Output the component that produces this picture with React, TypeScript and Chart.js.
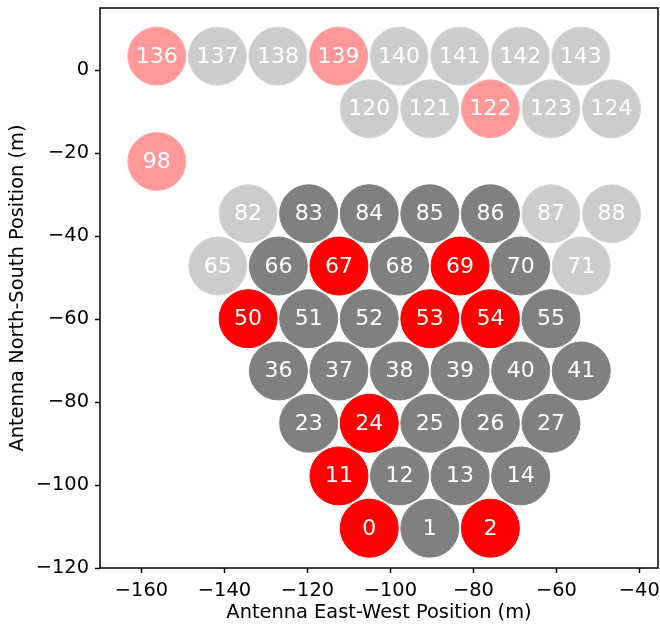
import React, { useEffect, useRef } from "react";
import { Chart, registerables } from "chart.js";

Chart.register(...registerables);

// Antenna numbers, positions (m) and state
const antNums = [
  0, 1, 2,
  11, 12, 13, 14,
  23, 24, 25, 26, 27,
  36, 37, 38, 39, 40, 41,
  50, 51, 52, 53, 54, 55,
  65, 66, 67, 68, 69, 70, 71,
  82, 83, 84, 85, 86, 87, 88,
  98,
  120, 121, 122, 123, 124,
  136, 137, 138, 139, 140, 141, 142, 143,
];
const antEast = [
  -105.1, -90.5, -75.9,
  -112.4, -97.8, -83.2, -68.6,
  -119.7, -105.1, -90.5, -75.9, -61.3,
  -127.0, -112.4, -97.8, -83.2, -68.6, -54.0,
  -134.3, -119.7, -105.1, -90.5, -75.9, -61.3,
  -141.6, -127.0, -112.4, -97.8, -83.2, -68.6, -54.0,
  -134.3, -119.7, -105.1, -90.5, -75.9, -61.3, -46.7,
  -156.3,
  -105.1, -90.5, -75.9, -61.3, -46.7,
  -156.3, -141.7, -127.1, -112.5, -97.9, -83.3, -68.7, -54.1,
];
const antNorth = [
  -110.4, -110.4, -110.4,
  -97.8, -97.8, -97.8, -97.8,
  -85.1, -85.1, -85.1, -85.1, -85.1,
  -72.5, -72.5, -72.5, -72.5, -72.5, -72.5,
  -59.9, -59.9, -59.9, -59.9, -59.9, -59.9,
  -47.2, -47.2, -47.2, -47.2, -47.2, -47.2, -47.2,
  -34.6, -34.6, -34.6, -34.6, -34.6, -34.6, -34.6,
  -22.0,
  -9.3, -9.3, -9.3, -9.3, -9.3,
  3.4, 3.4, 3.4, 3.4, 3.4, 3.4, 3.4, 3.4,
];
// R = red, G = gray, r = faint red, g = faint gray
const antState = [
  "R", "G", "R",
  "R", "G", "G", "G",
  "G", "R", "G", "G", "G",
  "G", "G", "G", "G", "G", "G",
  "R", "G", "G", "R", "R", "G",
  "g", "G", "R", "G", "R", "G", "g",
  "g", "G", "G", "G", "G", "g", "g",
  "r",
  "g", "g", "r", "g", "g",
  "r", "g", "g", "r", "g", "g", "g", "g",
];

const xTicks = [-160, -140, -120, -100, -80, -60, -40];
const yTicks = [-120, -100, -80, -60, -40, -20, 0];
const xLabel = "Antenna East-West Position (m)";
const yLabel = "Antenna North-South Position (m)";

const fillColors: Record<string, string> = {
  R: "#ff0000",
  G: "#808080",
  r: "#ff9999",
  g: "#cccccc",
};
const edgeColors: Record<string, string> = {
  R: "#ff0000",
  G: "#808080",
  r: "#ffaaaa",
  g: "#d4d4d4",
};

const FONT = "'DejaVu Sans', sans-serif";
const minus = (v: number) => String(v).replace("-", "\u2212");

const labelPlugin = {
  id: "antLabels",
  afterDatasetsDraw(chart: any) {
    const ctx = chart.ctx;
    const meta = chart.getDatasetMeta(0);
    ctx.save();
    ctx.fillStyle = "#ffffff";
    ctx.font = `22px ${FONT}`;
    ctx.textAlign = "center";
    ctx.textBaseline = "alphabetic";
    meta.data.forEach((el: any, i: number) => {
      ctx.fillText(String(antNums[i]), el.x, el.y + 6.5);
    });
    ctx.restore();
  },
};

const boxPlugin = {
  id: "box",
  afterDraw(chart: any) {
    const { left, top, right, bottom } = chart.chartArea;
    const ctx = chart.ctx;
    ctx.save();
    ctx.strokeStyle = "#000";
    ctx.lineWidth = 1.5;
    ctx.strokeRect(left, top, right - left, bottom - top);
    ctx.restore();
  },
};

const noPad = (s: any) => {
  s.paddingLeft = 0;
  s.paddingRight = 0;
  s.paddingTop = 0;
  s.paddingBottom = 0;
};

export default function App() {
  const ref = useRef<HTMLCanvasElement>(null);
  useEffect(() => {
    if (!ref.current) return;
    const data = antNums.map((_, i) => ({ x: antEast[i], y: antNorth[i] }));
    const chart = new Chart(ref.current, {
      type: "scatter",
      data: {
        datasets: [
          {
            data,
            pointRadius: 29,
            pointHoverRadius: 29,
            pointBorderWidth: 1,
            pointBackgroundColor: antState.map((s) => fillColors[s]),
            pointBorderColor: antState.map((s) => edgeColors[s]),
          },
        ],
      },
      options: {
        animation: false,
        responsive: false,
        events: [],
        layout: { autoPadding: false, padding: { left: 0, top: 8, right: 2, bottom: 0 } },
        plugins: { legend: { display: false }, tooltip: { enabled: false } },
        scales: {
          x: {
            type: "linear",
            min: -170,
            max: -35.5,
            afterBuildTicks: (s: any) => {
              s.ticks = xTicks.map((v) => ({ value: v }));
            },
            afterFit: (s: any) => {
              s.height = 61;
              noPad(s);
            },
            ticks: {
              callback: (v: any) => minus(Number(v)),
              color: "#000",
              font: { family: FONT, size: 19.4 },
              padding: 6,
              maxRotation: 0,
              autoSkip: false,
            },
            grid: {
              drawOnChartArea: false,
              drawTicks: true,
              tickLength: 5,
              tickWidth: 1.5,
              tickColor: "#000",
            },
            border: { display: false },
            title: {
              display: true,
              text: xLabel,
              color: "#000",
              font: { family: FONT, size: 19.4 },
              padding: { top: 0, bottom: 4 },
            },
          },
          y: {
            type: "linear",
            min: -120,
            max: 15,
            afterBuildTicks: (s: any) => {
              s.ticks = yTicks.map((v) => ({ value: v }));
            },
            afterFit: (s: any) => {
              s.width = 100;
              noPad(s);
            },
            ticks: {
              callback: (v: any) => minus(Number(v)),
              color: "#000",
              font: { family: FONT, size: 19.4 },
              padding: 6,
              autoSkip: false,
            },
            grid: {
              drawOnChartArea: false,
              drawTicks: true,
              tickLength: 5,
              tickWidth: 1.5,
              tickColor: "#000",
            },
            border: { display: false },
            title: {
              display: true,
              text: yLabel,
              color: "#000",
              font: { family: FONT, size: 19.4 },
              padding: { top: 6, bottom: 0 },
            },
          },
        },
      },
      plugins: [labelPlugin, boxPlugin],
    });
    return () => chart.destroy();
  }, []);
  return (
    <div style={{ position: "absolute", left: 0, top: 0, width: 660, height: 629, background: "#fff" }}>
      <canvas ref={ref} width={660} height={629} />
    </div>
  );
}
